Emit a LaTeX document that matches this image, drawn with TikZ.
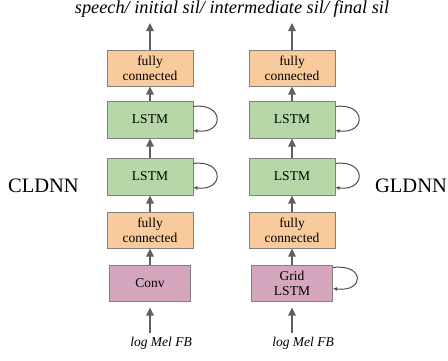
\documentclass[tikz,border=0pt]{standalone}
\usepackage{fontspec}
\setmainfont{Liberation Serif}
\usetikzlibrary{arrows.meta}
\definecolor{fcol}{HTML}{F9CB9C}
\definecolor{lcol}{HTML}{B6D7A8}
\definecolor{ccol}{HTML}{D5A6BD}
\definecolor{bcol}{HTML}{808080}
\definecolor{acol}{HTML}{606060}
\tikzset{
  blk/.style={draw=bcol, line width=1pt, minimum width=86pt, minimum height=36pt, inner sep=0pt, align=center, font=\fontsize{13.5}{15}\selectfont},
  fcbox/.style={blk, fill=fcol},
  lsbox/.style={blk, fill=lcol, minimum height=37pt},
  cvbox/.style={blk, fill=ccol, minimum width=81pt},
  flow/.style={draw=acol, line width=1.3pt, -{Triangle[length=8pt,width=7.5pt]}},
  rec/.style={draw=acol!80!black, line width=1pt, -{Latex[length=4pt,width=4pt]}, shorten >=0pt},
  lbl/.style={font=\fontsize{13.5}{15}\selectfont\itshape, inner sep=0pt},
  big/.style={font=\fontsize{20.5}{22}\selectfont, inner sep=0pt}
}
\begin{document}
\begin{tikzpicture}[x=1pt,y=-1pt]
\useasboundingbox (0,0) rectangle (448,360);
% left column
\node[fcbox] (lf1) at (150,68) {fully\\connected};
\node[lsbox] (ll1) at (150,119.5) {LSTM};
\node[lsbox] (ll2) at (150,176.5) {LSTM};
\node[fcbox] (lf2) at (150,230) {fully\\connected};
\node[cvbox] (lc) at (150,283) {Conv};
\coordinate (lout) at (150,23);
\coordinate (lin) at (150,333);
\node[lbl] (linl) at (161,343) {log Mel FB};
% right column
\node[fcbox] (rf1) at (292,68) {fully\\connected};
\node[lsbox] (rl1) at (292,119.5) {LSTM};
\node[lsbox] (rl2) at (292,176.5) {LSTM};
\node[fcbox] (rf2) at (292,230) {fully\\connected};
\node[cvbox] (rc) at (292,283) {Grid\\LSTM};
\coordinate (rout) at (292,23);
\coordinate (rin) at (292,333);
\node[lbl] (rinl) at (303,343) {log Mel FB};
% flows
\foreach \c in {l,r}{
  \draw[flow] (\c f1.north) -- (\c out);
  \draw[flow] (\c l1.north) -- (\c f1.south);
  \draw[flow] (\c l2.north) -- (\c l1.south);
  \draw[flow] (\c f2.north) -- (\c l2.south);
  \draw[flow] (\c c.north) -- (\c f2.south);
  \draw[flow] (\c in) -- ([yshift=-6pt]\c c.south);
}
% recurrent loops
\foreach \n in {ll1,ll2,rl1,rl2}{
  \draw[rec] ([yshift=-6pt]\n.north east) .. controls +(31,-4) and +(31,4) .. ([yshift=8pt]\n.south east);
}
\draw[rec] ([yshift=-3pt]rc.north east) .. controls +(32,-4) and +(32,4) .. ([yshift=13pt]rc.south east);
% labels
\node[lbl, font=\fontsize{18.3}{19}\selectfont\itshape, anchor=base] (title) at (232,13.5) {speech/ initial sil/ intermediate sil/ final sil};
\node[big] (cl) at (43.5,186) {CLDNN};
\node[big] (gl) at (411,186) {GLDNN};
\end{tikzpicture}
\end{document}
